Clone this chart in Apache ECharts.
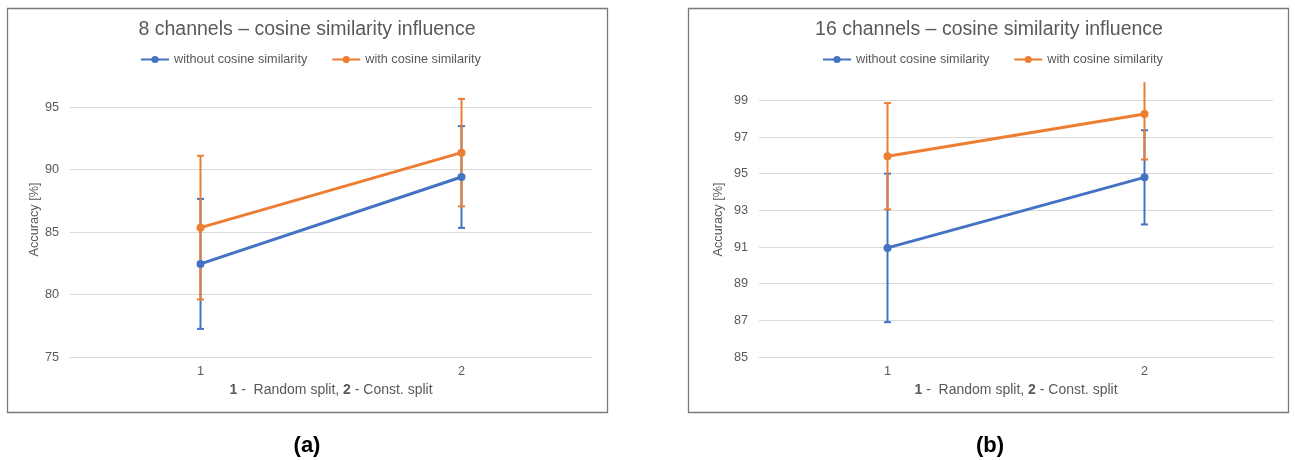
<!DOCTYPE html>
<html>
<head>
<meta charset="utf-8">
<script src="https://cdn.jsdelivr.net/npm/echarts@6/dist/echarts.min.js"></script>
<style>html,body{margin:0;padding:0;background:#fff;}#c{width:1295px;height:460px;}</style>
</head>
<body>
<div id="c"></div>
<script>
// ---- data ----
const categories = ['1', '2'];
const seriesNames = ['without cosine similarity', 'with cosine similarity'];
const titles = ['8 channels – cosine similarity influence', '16 channels – cosine similarity influence'];
const panelLabels = ['(a)', '(b)'];
// 8 channels
const ch8Without = [82.45, 89.4];
const ch8WithoutErr = [5.2, 4.07];
const ch8With = [85.35, 91.35];
const ch8WithErr = [5.75, 4.3];
// 16 channels
const ch16Without = [90.95, 94.8];
const ch16WithoutErr = [4.05, 2.57];
const ch16With = [95.95, 98.25];
const ch16WithErr = [2.9, 2.48];
// axis ranges
const yAxis8 = {min: 75, max: 97, interval: 5};
const yAxis16 = {min: 85, max: 100, interval: 2};

const BLUE = '#4472C4', ORANGE = '#ED7D31', TXT = '#595959', GRID = '#d9d9d9';
const FONT = 'Liberation Sans, Arial, sans-serif';

function errData(means, errs) {
  return means.map((m, i) => [i, m - errs[i], m + errs[i]]);
}
function errRender(params, api) {
  const x = api.value(0);
  const pLo = api.coord([x, api.value(1)]);
  const pHi = api.coord([x, api.value(2)]);
  const cap = 3.5;
  const style = {stroke: api.visual('color'), lineWidth: 2};
  return {type: 'group', children: [
    {type: 'line', shape: {x1: pHi[0], y1: pHi[1], x2: pLo[0], y2: pLo[1]}, style: style},
    {type: 'line', shape: {x1: pHi[0] - cap, y1: pHi[1], x2: pHi[0] + cap, y2: pHi[1]}, style: style},
    {type: 'line', shape: {x1: pLo[0] - cap, y1: pLo[1], x2: pLo[0] + cap, y2: pLo[1]}, style: style}
  ]};
}
function errSeries(idx, means, errs, color, z) {
  return {type: 'custom', xAxisIndex: idx, yAxisIndex: idx, renderItem: errRender,
    data: errData(means, errs), encode: {x: 0, y: [1, 2]}, clip: true,
    itemStyle: {color: color}, z: z, silent: true};
}
function lineSeries(idx, name, data, color, z) {
  return {type: 'line', name: name, xAxisIndex: idx, yAxisIndex: idx, data: data,
    symbol: 'circle', symbolSize: 8, color: color,
    lineStyle: {width: 3, color: color}, itemStyle: {color: color}, z: z};
}
function xAxisOpt(idx) {
  return {type: 'category', gridIndex: idx, data: categories, boundaryGap: true,
    axisLine: {show: true, lineStyle: {color: GRID, width: 1}}, axisTick: {show: false},
    axisLabel: {color: TXT, fontSize: 12.7, fontFamily: FONT, margin: 8},
    name: '{b|1} -  Random split, {b|2} - Const. split', nameLocation: 'middle', nameGap: 25,
    nameTextStyle: {color: TXT, fontSize: 14, fontFamily: FONT,
      rich: {b: {fontWeight: 'bold', color: TXT, fontSize: 14, fontFamily: FONT}}}};
}
function yAxisOpt(idx, r, gap) {
  return {type: 'value', gridIndex: idx, min: r.min, max: r.max, interval: r.interval,
    axisLine: {show: false}, axisTick: {show: false},
    axisLabel: {color: TXT, fontSize: 12.7, fontFamily: FONT, margin: 11, showMaxLabel: false},
    splitLine: {show: true, showMaxLine: false, lineStyle: {color: GRID, width: 1}},
    name: 'Accuracy [%]', nameLocation: 'middle', nameGap: gap,
    nameTextStyle: {color: TXT, fontSize: 12.7, fontFamily: FONT}};
}
function legendOpt(left) {
  return {data: seriesNames, left: left, top: 53, padding: 0, itemWidth: 28, itemHeight: 9, itemGap: 24,
    textStyle: {color: TXT, fontSize: 12.7, fontFamily: FONT}};
}

const chart = echarts.init(document.getElementById('c'), null, {renderer: 'canvas'});
chart.setOption({
  animation: false,
  backgroundColor: '#fff',
  title: [
    {text: titles[0], left: 307, top: 20, textAlign: 'center', padding: 0,
      textStyle: {color: TXT, fontSize: 19.5, fontWeight: 'normal', fontFamily: FONT}},
    {text: titles[1], left: 989, top: 20, textAlign: 'center', padding: 0,
      textStyle: {color: TXT, fontSize: 19.5, fontWeight: 'normal', fontFamily: FONT}}
  ],
  legend: [legendOpt(140), legendOpt(822)],
  grid: [
    {left: 70, right: 1295 - 592, top: 82, bottom: 460 - 357, containLabel: false},
    {left: 759, right: 1295 - 1273, top: 82, bottom: 460 - 357, containLabel: false}
  ],
  xAxis: [xAxisOpt(0), xAxisOpt(1)],
  yAxis: [yAxisOpt(0, yAxis8, 29), yAxisOpt(1, yAxis16, 34)],
  series: [
    errSeries(0, ch8Without, ch8WithoutErr, BLUE, 2),
    errSeries(0, ch8With, ch8WithErr, ORANGE, 3),
    lineSeries(0, seriesNames[0], ch8Without, BLUE, 4),
    lineSeries(0, seriesNames[1], ch8With, ORANGE, 5),
    errSeries(1, ch16Without, ch16WithoutErr, BLUE, 2),
    errSeries(1, ch16With, ch16WithErr, ORANGE, 3),
    lineSeries(1, seriesNames[0], ch16Without, BLUE, 4),
    lineSeries(1, seriesNames[1], ch16With, ORANGE, 5)
  ],
  graphic: [
    {type: 'rect', shape: {x: 7.5, y: 8.5, width: 600, height: 404}, style: {fill: 'none', stroke: '#7a7a7a', lineWidth: 1.3}, silent: true},
    {type: 'rect', shape: {x: 688.5, y: 8.5, width: 600, height: 404}, style: {fill: 'none', stroke: '#7a7a7a', lineWidth: 1.3}, silent: true},
    {type: 'text', x: 307, y: 446, style: {text: panelLabels[0], fill: '#000', font: 'bold 22px ' + FONT, textAlign: 'center', textVerticalAlign: 'middle'}, silent: true},
    {type: 'text', x: 990, y: 446, style: {text: panelLabels[1], fill: '#000', font: 'bold 22px ' + FONT, textAlign: 'center', textVerticalAlign: 'middle'}, silent: true}
  ]
});
</script>
</body>
</html>
